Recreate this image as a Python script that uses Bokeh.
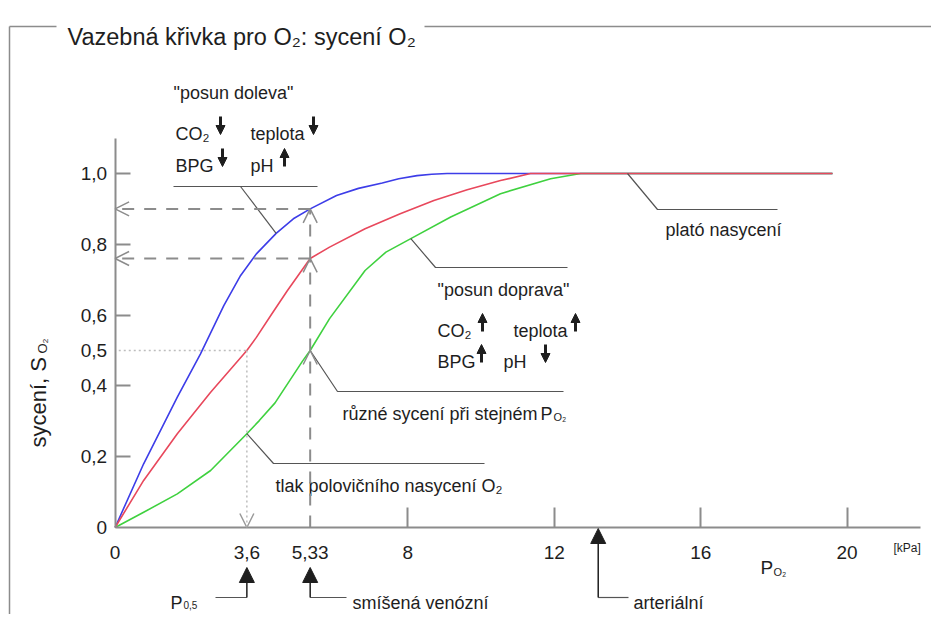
import math
from bokeh.plotting import figure
from bokeh.models import Range1d, LinearAxis, FixedTicker, Arrow, OpenHead, NormalHead
from bokeh.core.properties import value
from bokeh.embed import file_html
from bokeh.resources import INLINE

# ---------------- data ----------------
po2_blue = [0, 0.78, 1.70, 2.33, 2.97, 3.43, 3.86, 4.40, 4.87, 5.33, 6.05, 6.65, 7.30, 7.75, 8.25, 8.65, 9.07, 19.6]
so2_blue = [0, 0.18, 0.368, 0.49, 0.627, 0.712, 0.773, 0.831, 0.872, 0.90, 0.938, 0.958, 0.973, 0.985, 0.994, 0.998, 1.0, 1.0]

po2_red = [0, 0.78, 1.70, 2.61, 3.6, 3.86, 4.28, 4.70, 5.33, 5.86, 6.83, 7.79, 8.71, 9.62, 10.53, 11.35, 19.6]
so2_red = [0, 0.133, 0.265, 0.382, 0.50, 0.537, 0.603, 0.668, 0.76, 0.792, 0.844, 0.886, 0.924, 0.954, 0.98, 1.0, 1.0]

po2_green = [0, 0.78, 1.70, 2.61, 3.6, 3.94, 4.37, 5.12, 5.33, 5.86, 6.83, 7.40, 8.08, 9.17, 10.53, 11.90, 12.72, 19.6]
so2_green = [0, 0.043, 0.095, 0.161, 0.265, 0.302, 0.352, 0.47, 0.50, 0.59, 0.726, 0.778, 0.816, 0.877, 0.943, 0.985, 1.0, 1.0]

x_tick_values = [0, 3.6, 5.33, 8, 12, 16, 20]
x_tick_labels = ["0", "3,6", "5,33", "8", "12", "16", "20"]
x_tick_marks = [8, 12, 16, 20]
y_tick_values = [0, 0.2, 0.4, 0.5, 0.6, 0.8, 1.0]
y_tick_labels = ["0", "0,2", "0,4", "0,5", "0,6", "0,8", "1,0"]
y_tick_marks = [0.2, 0.4, 0.6, 0.8, 1.0]

p50 = 3.6            # P0,5
p_venous = 5.33      # smíšená venózní
p_arterial = 13.2    # arteriální
s_venous_left = 0.90
s_venous_normal = 0.76
s_venous_right = 0.50
s_half = 0.5
s_half_green = 0.265
blue_leader = (4.40, 0.831)
green_leader = (8.08, 0.816)
plateau_leader = (14.0, 1.0)
x_axis_end = 22.0
y_axis_end = 1.10

# ---------------- layout ----------------
W, H = 931, 614
X0, SX = 114.6, 36.6   # px of x=0, px per kPa
Y0, SY = 527.0, 354.0  # px of y=0, px per unit saturation


def dx(px):
    return (px - X0) / SX


def dy(py):
    return (Y0 - py) / SY


FONT = "Liberation Sans"
TXT = "#1e1e1e"
GRAY = "#8c8c8c"
LEAD = "#555555"
BLUE = "#3d3de8"
RED = "#e8485c"
GREEN = "#3fd13f"
FS = "18px"

p = figure(width=W, height=H, output_backend="svg", toolbar_location=None,
           x_range=Range1d(dx(0), dx(W)), y_range=Range1d(dy(H), dy(0)),
           x_axis_type=None, y_axis_type=None, min_border=0,
           outline_line_color=None, background_fill_color="white", border_fill_color="white")


def style_axis(ax, marks):
    ax.axis_line_color = GRAY if marks else None
    ax.axis_line_width = 2
    ax.major_tick_line_color = GRAY if marks else None
    ax.major_tick_line_width = 2
    ax.minor_tick_line_color = None
    ax.major_tick_out = 0
    ax.major_label_text_font = FONT
    ax.major_label_text_font_size = "19px"
    ax.major_label_text_color = TXT


# y axis: line + tick marks
ya = LinearAxis(fixed_location=0, bounds=(0, y_axis_end), ticker=FixedTicker(ticks=y_tick_marks),
                major_label_overrides={v: "" for v in y_tick_marks})
style_axis(ya, True)
ya.major_tick_in = 15
p.add_layout(ya, "left")
# y axis: labels
yl = LinearAxis(fixed_location=0, ticker=FixedTicker(ticks=y_tick_values),
                major_label_overrides=dict(zip(y_tick_values, y_tick_labels)))
style_axis(yl, False)
yl.major_tick_in = 0
yl.major_label_standoff = 8
p.add_layout(yl, "left")

# x axis: line + tick marks
xa = LinearAxis(fixed_location=0, bounds=(0, x_axis_end), ticker=FixedTicker(ticks=x_tick_marks),
                major_label_overrides={v: "" for v in x_tick_marks})
style_axis(xa, True)
xa.major_tick_in = 20
p.add_layout(xa, "below")
# x axis: labels
xl = LinearAxis(fixed_location=0, ticker=FixedTicker(ticks=x_tick_values),
                major_label_overrides=dict(zip(x_tick_values, x_tick_labels)))
style_axis(xl, False)
xl.major_tick_in = 0
xl.major_label_standoff = 18
p.add_layout(xl, "below")

# ---------------- frame around the chart ----------------
p.segment(x0=[dx(9), dx(9), dx(424)], y0=[dy(26), dy(26), dy(26)],
          x1=[dx(9), dx(56), dx(960)], y1=[dy(640), dy(26), dy(26)],
          line_color=GRAY, line_width=1.5)


def txt(x, y, s, size=FS, align="left", baseline="alphabetic", angle=0.0):
    p.text(x=[x], y=[y], text=[s], text_font=value(FONT), text_font_size=value(size),
           text_color=TXT, text_align=align, text_baseline=baseline, angle=angle)


txt(dx(67), dy(36), "Vazebná křivka pro O₂: sycení O₂", size="23.5px")

# ---------------- helper lines (dashed / dotted) ----------------
for s in (s_venous_left, s_venous_normal):
    p.add_layout(Arrow(x_start=p_venous, y_start=s, x_end=0, y_end=s,
                       line_color=GRAY, line_width=2, line_dash="12 10",
                       end=OpenHead(size=14, line_color=GRAY, line_width=1.5)))
for a, b in ((0, s_venous_right), (s_venous_right, s_venous_normal), (s_venous_normal, s_venous_left)):
    p.add_layout(Arrow(x_start=p_venous, y_start=a, x_end=p_venous, y_end=b,
                       line_color=GRAY, line_width=2, line_dash="12 10",
                       end=OpenHead(size=14, line_color=GRAY, line_width=1.5)))
# P50 dotted
p.segment(x0=[0.1], y0=[s_half], x1=[p50], y1=[s_half], line_color="#bdbdbd", line_width=1.5, line_dash="2 3")
p.add_layout(Arrow(x_start=p50, y_start=s_half, x_end=p50, y_end=0,
                   line_color="#bdbdbd", line_width=1.5, line_dash="2 3",
                   end=OpenHead(size=14, line_color="#9a9a9a", line_width=1.5)))

# ---------------- curves ----------------
p.line(po2_blue, so2_blue, line_color=BLUE, line_width=1.6, line_join="round")
p.line(po2_green, so2_green, line_color=GREEN, line_width=1.6, line_join="round")
p.line(po2_red, so2_red, line_color=RED, line_width=1.6, line_join="round")

# ---------------- leaders ----------------
lead_x = [
    [dx(173), dx(317)],                          # posun doleva underline
    [dx(240), blue_leader[0]],                   # -> blue curve
    [p50, dx(273), dx(484)],                     # tlak polovičního
    [p_venous, dx(337), dx(563)],                # různé sycení
    [green_leader[0], dx(435), dx(567)],         # posun doprava
    [plateau_leader[0], dx(657), dx(777)],       # plató
]
lead_y = [
    [dy(186), dy(186)],
    [dy(186), blue_leader[1]],
    [s_half_green, dy(463), dy(463)],
    [s_venous_right, dy(391), dy(391)],
    [green_leader[1], dy(267), dy(267)],
    [plateau_leader[1], dy(209), dy(209)],
]
p.multi_line(lead_x, lead_y, line_color=LEAD, line_width=1.2)

# ---------------- annotation texts ----------------
txt(dx(173), dy(92), '"posun doleva"')
txt(dx(175), dy(133), "CO₂")
txt(dx(250), dy(133), "teplota")
txt(dx(175), dy(165), "BPG")
txt(dx(250), dy(165), "pH")

txt(dx(665), dy(229), "plató nasycení")

txt(dx(437), dy(289), '"posun doprava"')
txt(dx(437), dy(330), "CO₂")
txt(dx(513), dy(330), "teplota")
txt(dx(437), dy(361), "BPG")
txt(dx(503), dy(361), "pH")

txt(dx(342), dy(413), "různé sycení při stejném")
txt(dx(540), dy(413), "P")
txt(dx(553), dy(416), "O₂", size="11px")

txt(dx(275), dy(485), "tlak polovičního nasycení O₂")

# thick up/down arrows next to the factors
thick = [(220, 116, 134), (313, 116, 134), (222, 148, 166), (284, 166, 148),
         (482, 331, 313), (575, 331, 313), (481, 362, 344), (545, 344, 362)]
for ax_, ys, ye in thick:
    p.add_layout(Arrow(x_start=dx(ax_), y_start=dy(ys), x_end=dx(ax_), y_end=dy(ye),
                       line_color=TXT, line_width=3,
                       end=NormalHead(size=9, fill_color=TXT, line_color=TXT, line_width=1)))

# ---------------- axis titles ----------------
txt(dx(38), dy(447), "sycení, S", size="22px", align="left", baseline="middle", angle=math.pi / 2)
txt(dx(42), dy(353), "O₂", size="13px", align="left", baseline="middle", angle=math.pi / 2)
txt(dx(893), dy(547), "[kPa]", size="12px")
txt(dx(760), dy(567), "P", size="19px")
txt(dx(773), dy(571), "O₂", size="11px")

# ---------------- markers below the x axis ----------------
for xv, tip in ((p50, 567), (p_venous, 567), (p_arterial, 528)):
    p.add_layout(Arrow(x_start=xv, y_start=dy(597), x_end=xv, y_end=dy(tip),
                       line_color=TXT, line_width=1.5,
                       end=NormalHead(size=15, fill_color=TXT, line_color=TXT, line_width=1)))
p.multi_line([[dx(215), p50], [p_venous, dx(346)], [p_arterial, dx(628)]],
             [[dy(597), dy(597)]] * 3, line_color=LEAD, line_width=1.2)
txt(dx(170), dy(602), "P")
txt(dx(183), dy(604), "0,5", size="10px")
txt(dx(352), dy(602), "smíšená venózní")
txt(dx(633), dy(602), "arteriální")

open("out.html", "w").write(file_html(p, INLINE))
